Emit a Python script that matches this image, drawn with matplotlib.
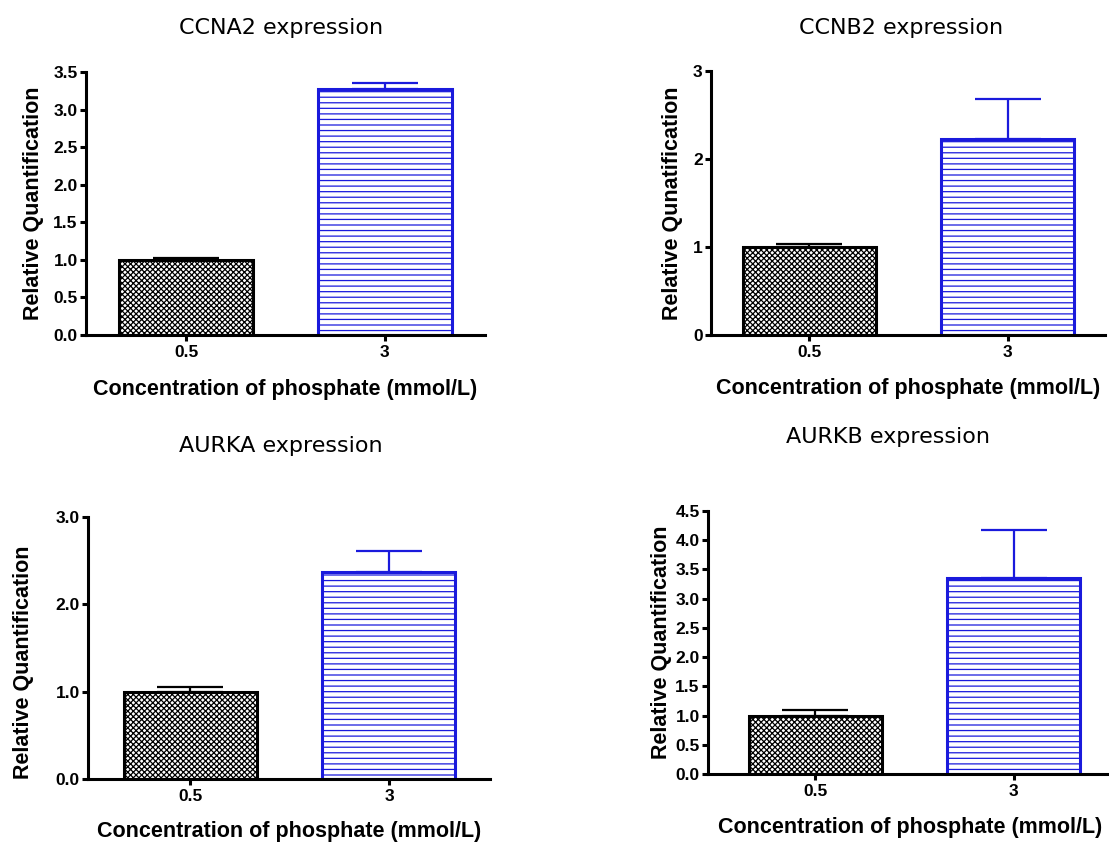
import matplotlib
matplotlib.use("Agg")
import matplotlib.pyplot as plt
from matplotlib.ticker import FormatStrFormatter

plt.rcParams['font.family'] = ['Liberation Sans', 'DejaVu Sans']
plt.rcParams['hatch.linewidth'] = 0.9

# Phosphate concentrations (mmol/L)
groups = ["0.5", "3"]

# Relative expression (mean) and upper SD for each gene
ccna2_mean = [1.00, 3.28]
ccna2_err = [0.03, 0.07]
ccnb2_mean = [1.00, 2.23]
ccnb2_err = [0.03, 0.45]
aurka_mean = [1.00, 2.37]
aurka_err = [0.05, 0.24]
aurkb_mean = [1.00, 3.35]
aurkb_err = [0.10, 0.83]

titles = ["CCNA2 expression", "CCNB2 expression", "AURKA expression", "AURKB expression"]
ylabels = ["Relative Quantification", "Relative Qunatification",
           "Relative Quantification", "Relative Quantification"]
yticks = [[0.0, 0.5, 1.0, 1.5, 2.0, 2.5, 3.0, 3.5],
          [0, 1, 2, 3],
          [0.0, 1.0, 2.0, 3.0],
          [0.0, 0.5, 1.0, 1.5, 2.0, 2.5, 3.0, 3.5, 4.0, 4.5]]
yfmt = ["%.1f", "%d", "%.1f", "%.1f"]

W, H = 1109, 843
fig = plt.figure(figsize=(W / 100, H / 100), dpi=100)

# panel layout in pixels: axes box (left, top, right, bottom), x-limits,
# title (centre x, baseline y), x-label top y, y-label (anchor x, centre y)
layout = [
    dict(box=(86, 72, 485, 335), xlim=(-0.503, 1.503), title=(281, 34),
         xlab=379, ylab=(44, 203)),
    dict(box=(711, 71, 1105, 335), xlim=(-0.496, 1.49), title=(901, 34),
         xlab=378, ylab=(683, 203)),
    dict(box=(88, 517, 490, 779), xlim=(-0.516, 1.509), title=(281, 452),
         xlab=821, ylab=(34, 662)),
    dict(box=(708, 511, 1113, 774), xlim=(-0.54, 1.5), title=(888, 443),
         xlab=817, ylab=(672, 642)),
]

data = [(ccna2_mean, ccna2_err), (ccnb2_mean, ccnb2_err),
        (aurka_mean, aurka_err), (aurkb_mean, aurkb_err)]

blue = "#1a1adc"
for i, ((means, errs), lay) in enumerate(zip(data, layout)):
    l, t, r, b = lay["box"]
    w, h = r - l, b - t
    ax = fig.add_axes([l / W, 1 - b / H, w / W, h / H])
    x = [0, 1]
    colors = ["black", blue]
    hatches = ["xxxxxx", "---"]
    for xi, m, e, c, hp in zip(x, means, errs, colors, hatches):
        ax.errorbar(xi, m, yerr=[[0], [e]], color=c, capsize=24,
                    elinewidth=1.6, capthick=1.6, zorder=1)
        ax.bar(xi, m, width=0.67, facecolor="white", edgecolor=c,
               hatch=hp, linewidth=2.2, zorder=2)
    ax.set_xlim(*lay["xlim"])
    ax.set_ylim(yticks[i][0], yticks[i][-1])
    ax.set_yticks(yticks[i])
    ax.yaxis.set_major_formatter(FormatStrFormatter(yfmt[i]))
    ax.set_xticks(x)
    ax.set_xticklabels(groups)
    for s in ["top", "right"]:
        ax.spines[s].set_visible(False)
    for s in ["left", "bottom"]:
        ax.spines[s].set_linewidth(2.2)
    ax.tick_params(axis="both", width=2.2, length=4.5, labelsize=12.5,
                   pad=1.5, direction="out")
    ax.tick_params(axis="x", pad=3)
    for lab in ax.get_xticklabels() + ax.get_yticklabels():
        lab.set_fontweight("bold")

    ax.set_xlabel("Concentration of phosphate (mmol/L)", fontsize=15.5,
                  fontweight="bold")
    ax.xaxis.set_label_coords(0.5, (b - lay["xlab"]) / h)

    ax.set_ylabel(ylabels[i], fontsize=15.5, fontweight="bold")
    ylx, ylc = lay["ylab"]
    ax.yaxis.set_label_coords((ylx - l) / w, (b - ylc) / h)

    tx, ty = lay["title"]
    ax.set_title(titles[i], fontsize=16, family="DejaVu Sans",
                 x=(tx - l) / w, y=(b - ty) / h, pad=0)
    ax.patch.set_alpha(0)

fig.savefig("out.png", dpi=100)
